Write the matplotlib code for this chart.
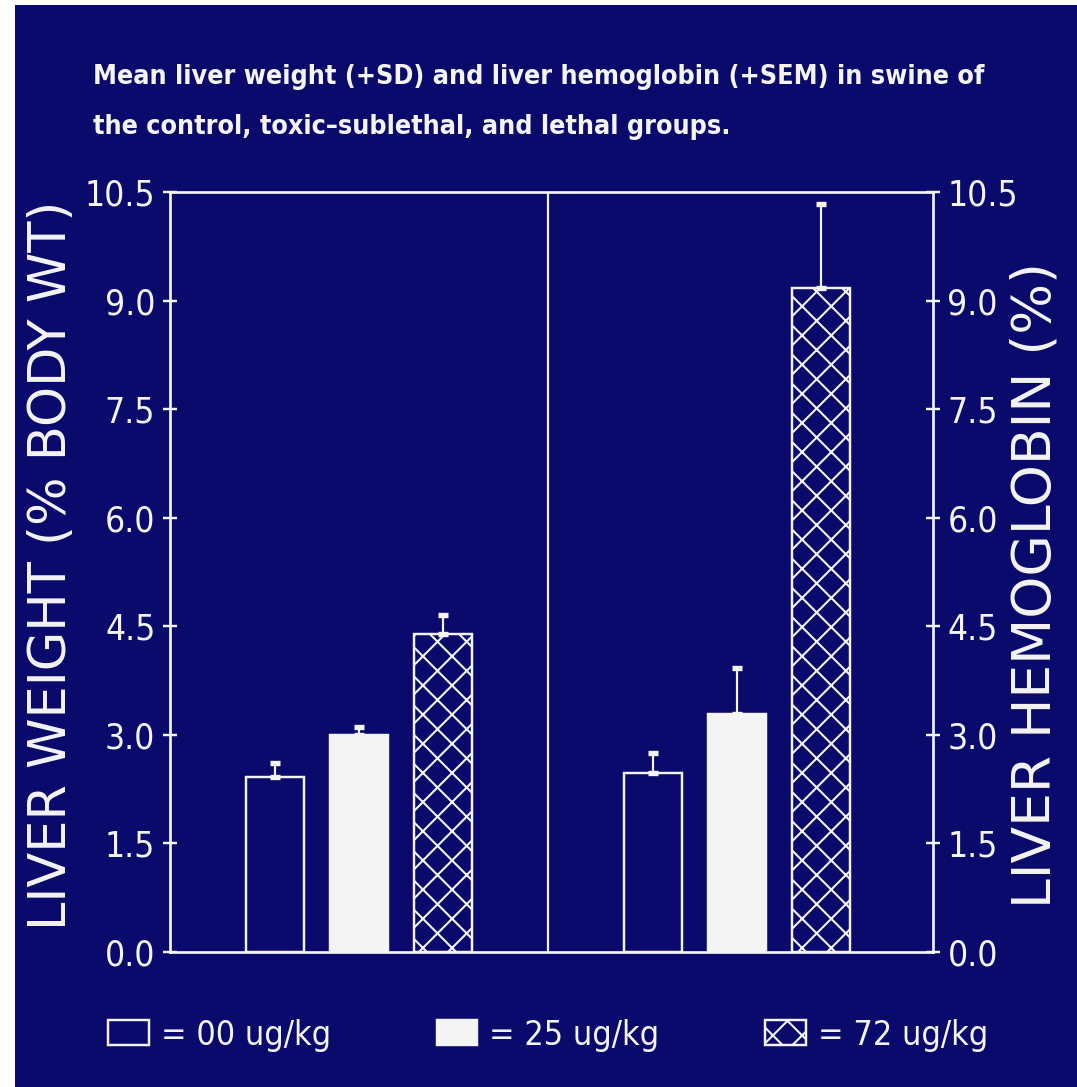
import matplotlib
matplotlib.use('Agg')
import matplotlib.pyplot as plt
from matplotlib.patches import Rectangle

# ---- data ----
groups = ['00 ug/kg', '25 ug/kg', '72 ug/kg']
liver_weight = [2.42, 3.00, 4.39]      # % body wt
liver_weight_sd = [0.19, 0.11, 0.26]
liver_hb = [2.47, 3.29, 9.17]          # %
liver_hb_sem = [0.28, 0.63, 1.16]
yticks = [0.0, 1.5, 3.0, 4.5, 6.0, 7.5, 9.0, 10.5]

navy = '#0a0a6c'
white = '#f4f4f4'
narrow = dict(family=['DejaVu Sans'], stretch='condensed')
wide = dict(family=['DejaVu Sans'])

plt.rcParams['hatch.linewidth'] = 0.85
plt.rcParams['hatch.color'] = white

DPI = 175
fig = plt.figure(figsize=(1077 / DPI, 1087 / DPI), dpi=DPI, facecolor='white')
# navy slide area (thin white margin at left/top)
fig.patches.append(Rectangle((15 / 1077, 0), 1, 1 - 5 / 1087, transform=fig.transFigure,
                             facecolor=navy, edgecolor='none', zorder=-10))

ax = fig.add_axes([0.1578, 0.1242, 0.7084, 0.6992])
ax.set_facecolor('none')
ax.set_xlim(0, 9.08)
ax.set_ylim(0, 10.5)

x_left = [1.25, 2.25, 3.25]
x_right = [5.75, 6.75, 7.75]
width = 0.69
styles = [dict(facecolor='none', hatch=None),
          dict(facecolor=white, hatch=None),
          dict(facecolor='none', hatch='xx')]

handles = []
for i in range(3):
    b = ax.bar(x_left[i], liver_weight[i], width, edgecolor=white, linewidth=1.0,
               zorder=3, **styles[i])
    ax.bar(x_right[i], liver_hb[i], width, edgecolor=white, linewidth=1.0,
           zorder=3, **styles[i])
    handles.append(b)

ax.errorbar(x_left, liver_weight, yerr=[[0, 0, 0], liver_weight_sd], fmt='none',
            ecolor=white, elinewidth=0.9, capsize=2.2, capthick=2.2, zorder=2)
ax.errorbar(x_right, liver_hb, yerr=[[0, 0, 0], liver_hb_sem], fmt='none',
            ecolor=white, elinewidth=0.9, capsize=2.2, capthick=2.2, zorder=2)

# divider between the two panels
ax.axvline(4.5, color=white, lw=0.9, zorder=1)

for s in ax.spines.values():
    s.set_color(white)
    s.set_linewidth(1.1)

ax.set_xticks([])
ax.set_yticks(yticks)
ax.set_yticklabels(['%.1f' % t for t in yticks], fontsize=14.5, color=white, **narrow)
ax.tick_params(axis='y', direction='inout', length=6, width=1.0, color=white, pad=3)

ax2 = ax.twinx()
ax2.set_ylim(0, 10.5)
ax2.set_yticks(yticks)
ax2.set_yticklabels(['%.1f' % t for t in yticks], fontsize=14.5, color=white, **narrow)
ax2.tick_params(axis='y', direction='inout', length=6, width=1.0, color=white, pad=3)
for s in ax2.spines.values():
    s.set_visible(False)

ax.set_ylabel('LIVER WEIGHT (% BODY WT)', fontsize=21, color=white, va='center', **wide)
ax.yaxis.set_label_coords((52 - 170) / 763, (952 - 565) / 760)
ax2.set_ylabel('LIVER HEMOGLOBIN (%)', fontsize=22, color=white, va='center', **wide)
ax2.yaxis.set_label_coords((1036 - 170) / 763, (952 - 585) / 760)

fig.text(93 / 1077, 1 - 102 / 1087,
         'Mean liver weight (+SD) and liver hemoglobin (+SEM) in swine of\n'
         'the control, toxic\u2013sublethal, and lethal groups.',
         fontweight='bold', fontsize=11.0, color=white,
         va='center', ha='left', linespacing=2.2, **narrow)

leg = fig.legend(handles, ['= ' + g for g in groups], loc='center',
                 bbox_to_anchor=(548 / 1077, 1 - 1035 / 1087), ncol=3, frameon=False,
                 prop=dict(size=14, **narrow), labelcolor=white,
                 handlelength=1.2, handleheight=0.75, handletextpad=0.35,
                 columnspacing=3.1)

fig.savefig('out.png', dpi=DPI, facecolor=fig.get_facecolor())
